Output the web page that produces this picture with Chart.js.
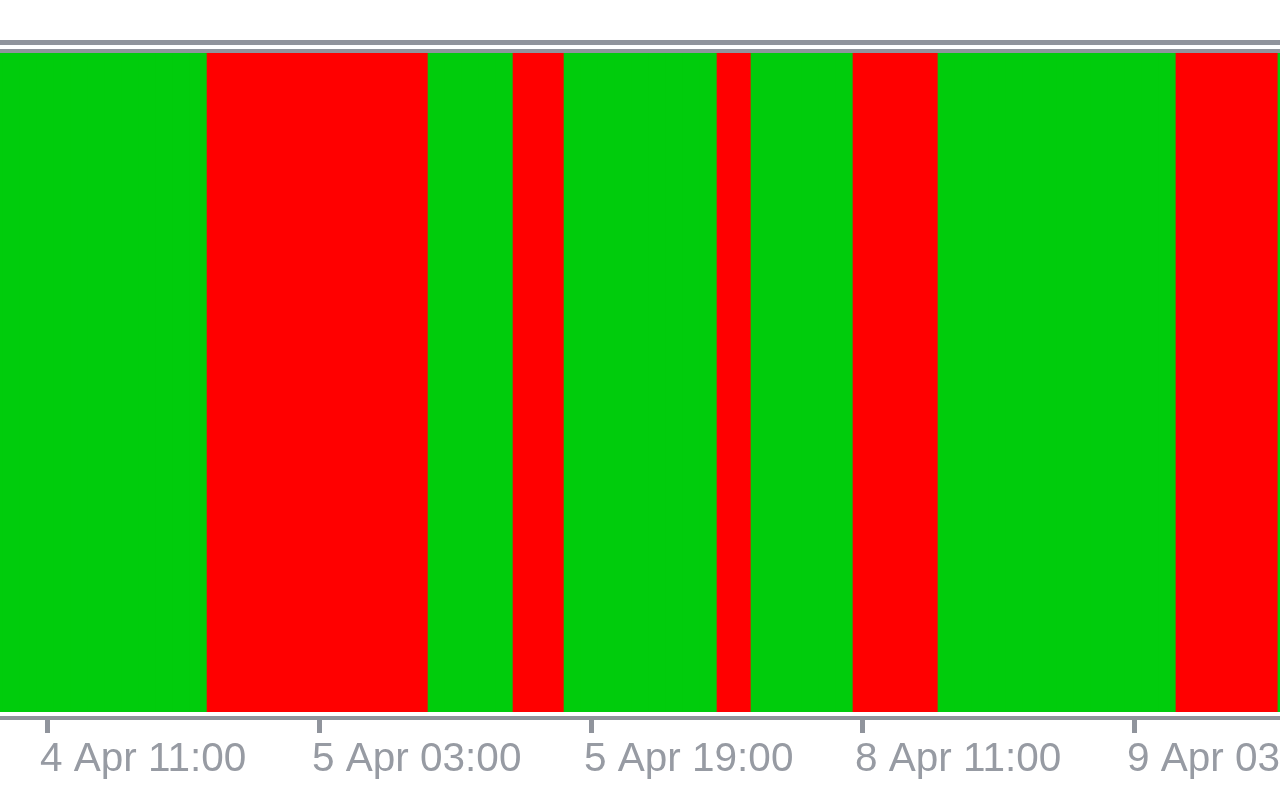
<!DOCTYPE html>
<html>
<head>
<meta charset="utf-8">
<title>Trend bars</title>
<script src="https://cdn.jsdelivr.net/npm/chart.js@4.4.1/dist/chart.umd.min.js"></script>
<style>
  html, body { margin: 0; padding: 0; background: #ffffff; }
  #wrap { position: relative; width: 1280px; height: 800px; }
</style>
</head>
<body>
<div id="wrap"><canvas id="trend"></canvas></div>
<script>
// ---- Data: runs of hourly bars, starting with the partly hidden bar at the left edge ----
const runLengths = [13, 13, 5, 3, 9, 2, 6, 5, 14, 6, 1];
const runTrend   = ['up', 'down', 'up', 'down', 'up', 'down', 'up', 'down', 'up', 'down', 'up'];
const firstBar   = -1;

// ---- Time axis labels (bar index -> label) ----
const tickBars   = [2, 18, 34, 50, 66];
const tickLabels = ['4 Apr 11:00', '5 Apr 03:00', '5 Apr 19:00', '8 Apr 11:00', '9 Apr 03:00'];

// ---- Colours ----
const trendColor = { up: '#00cc0c', down: '#ff0000' };
const frameColor = '#90949c';
const textColor  = '#979ba3';

// ---- Visible window in bar units ----
const viewMin = -0.68;
const viewMax = 74.62;

// ---- Expand runs into one bar per hour ----
const bars = [];
const barColors = [];
let idx = firstBar;
runLengths.forEach((n, r) => {
  for (let i = 0; i < n; i++) {
    bars.push({ x: idx, y: 1 });
    barColors.push(trendColor[runTrend[r]]);
    idx++;
  }
});

// ---- Frame lines, tick marks and time labels around the plot ----
const framePlugin = {
  id: 'frame',
  afterDraw(chart) {
    const { ctx, chartArea: a, width } = chart;
    const xs = chart.scales.x;
    ctx.save();
    ctx.fillStyle = frameColor;
    ctx.fillRect(0, a.top - 13, width, 5);
    ctx.fillRect(0, a.top - 4, width, 4);
    ctx.fillRect(0, a.bottom + 4, width, 4);
    ctx.font = '40.5px "Liberation Sans"';
    ctx.textAlign = 'left';
    ctx.textBaseline = 'alphabetic';
    xs.ticks.forEach((t, i) => {
      const px = Math.round(xs.getPixelForValue(t.value));
      ctx.fillStyle = frameColor;
      ctx.fillRect(px - 1, a.bottom + 8, 5, 13);
      ctx.fillStyle = textColor;
      ctx.fillText(tickLabels[i], px - 6, a.bottom + 59);
    });
    ctx.restore();
  }
};

new Chart(document.getElementById('trend').getContext('2d'), {
  type: 'bar',
  data: {
    datasets: [{
      data: bars,
      backgroundColor: barColors,
      borderWidth: 0,
      barPercentage: 1,
      categoryPercentage: 1
    }]
  },
  options: {
    responsive: true,
    maintainAspectRatio: false,
    animation: false,
    layout: { padding: { top: 53, left: 0, right: 0, bottom: 88 } },
    plugins: { legend: { display: false }, tooltip: { enabled: false } },
    scales: {
      x: {
        type: 'linear',
        display: false,
        offset: false,
        min: viewMin,
        max: viewMax,
        afterBuildTicks: s => { s.ticks = tickBars.map(v => ({ value: v })); }
      },
      y: {
        display: false,
        min: 0,
        max: 1
      }
    }
  },
  plugins: [framePlugin]
});
</script>
</body>
</html>
